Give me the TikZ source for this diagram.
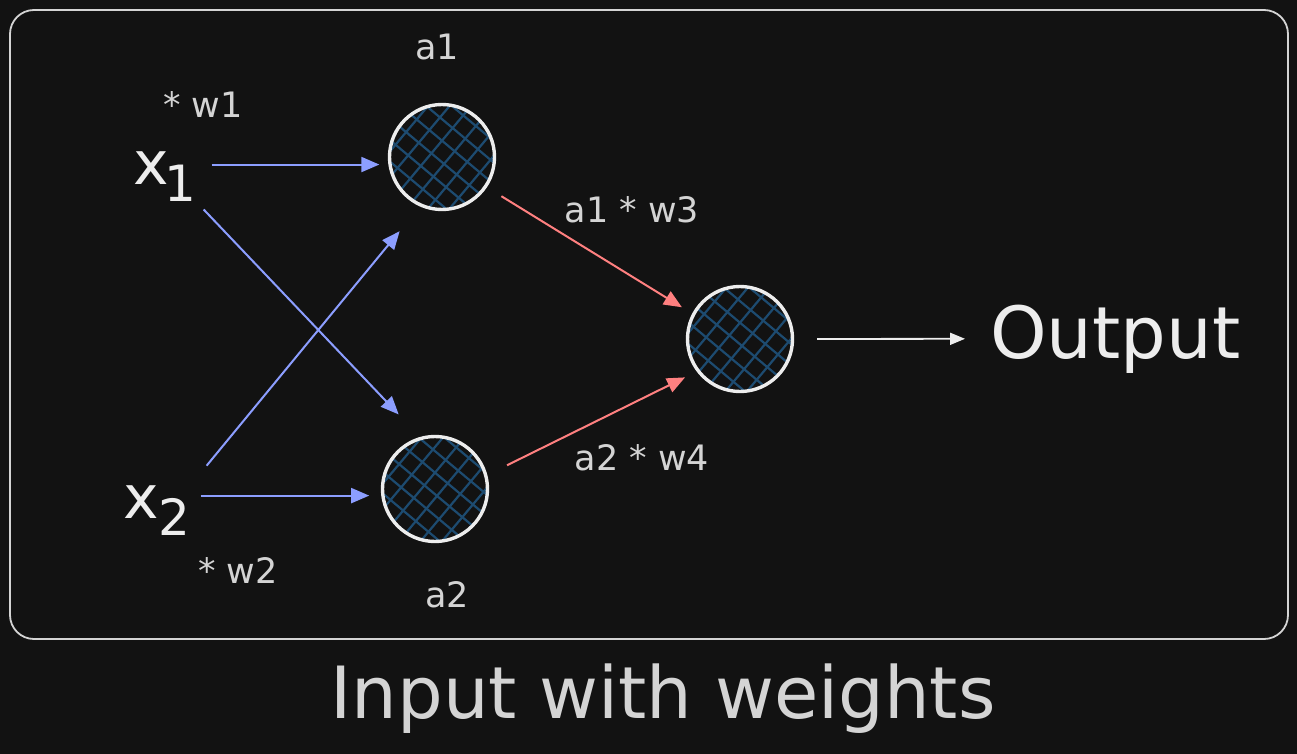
\documentclass[tikz,border=0pt]{standalone}
\usepackage{fontspec}
\setmainfont{DejaVu Sans}
\usetikzlibrary{arrows.meta}
\definecolor{bgdark}{HTML}{121212}
\definecolor{chalk}{HTML}{EDEDED}
\definecolor{softgray}{HTML}{D4D4D4}
\definecolor{hatchblue}{HTML}{1D4B70}
\definecolor{inblue}{HTML}{8C9EFF}
\definecolor{wred}{HTML}{FF8080}

\begin{document}
\begin{tikzpicture}[x=1pt, y=-1pt,
    neuron/.style={circle, draw=chalk, line width=3.4pt, minimum size=105pt, inner sep=0pt,
      path picture={
        \begin{scope}[shift={(path picture bounding box.center)}]
          \foreach \k in {-4,...,4} {
            \draw[hatchblue, line width=2.2pt] (130:{\k*16.5+4}) ++(40:70) -- ++(220:140);
            \draw[hatchblue, line width=2.2pt] (40:{\k*16.5+6}) ++(130:70) -- ++(310:140);
          }
        \end{scope}}},
    lbl/.style={text=softgray, inner sep=0pt, anchor=base, font=\fontsize{35}{35}\selectfont},
    var/.style={text=chalk, inner sep=0pt, anchor=base west, font=\fontsize{60}{60}\selectfont},
    inarrow/.style={draw=inblue, line width=2pt, -{Triangle[length=18pt,width=15pt]}},
    wtarrow/.style={draw=wred, line width=2pt, -{Triangle[length=18pt,width=15pt]}},
    outarrow/.style={draw=chalk, line width=1.8pt, -{Triangle[length=15pt,width=12pt]}}]
    \useasboundingbox (0,0) rectangle (1297,754);
    \fill[bgdark] (0,0) rectangle (1297,754);
    \draw[softgray, line width=1.8pt, rounded corners=24pt] (10,10) rectangle (1288,639);

    % neurons
    \node[neuron] (a1) at (442,157) {};
    \node[neuron] (a2) at (435,489) {};
    \node[neuron] (out) at (740,339) {};

    % inputs and labels
    \node[var] (x1) at (133,185) {x\kern-4pt\raisebox{-17pt}{\fontsize{50}{50}\selectfont 1}};
    \node[var] (x2) at (123,518) {x\raisebox{-17pt}{\fontsize{50}{50}\selectfont 2}};
    \node[lbl] (a1lbl) at (437,60) {a1};
    \node[lbl] (w1lbl) at (203,118) {* w1};
    \node[lbl] (w2lbl) at (238,583) {* w2};
    \node[lbl] (a2lbl) at (447,607) {a2};
    \node[lbl] (w3lbl) at (632,222) {a1 * w3};
    \node[lbl] (w4lbl) at (642,470) {a2 * w4};
    \node[var, font=\fontsize{72}{72}\selectfont] (output) at (990,358) {Output};
    \node[lbl, font=\fontsize{72}{72}\selectfont] (caption) at (663,718) {Input with weights};

    % connections
    \draw[inarrow, shorten <=15pt, shorten >=9pt] (a1.188 -| x1.east) -- (a1.188);
    \draw[inarrow, shorten <=10pt, shorten >=31pt] (x1.south east) -- (a2.106);
    \draw[inarrow, shorten <=25pt, shorten >=32pt] (x2.north east) -- (a1.246);
    \draw[inarrow, shorten <=10pt, shorten >=12pt] (a2.187 -| x2.east) -- (a2.187);
    \draw[wtarrow, shorten <=17pt, shorten >=12pt] (a1.-34) -- (out.152);
    \draw[wtarrow, shorten <=22pt, shorten >=13pt] (a2.15) -- (out.217);
    \draw[outarrow, shorten <=23pt, shorten >=25pt] (out.east) -- (output.west);
\end{tikzpicture}
\end{document}
